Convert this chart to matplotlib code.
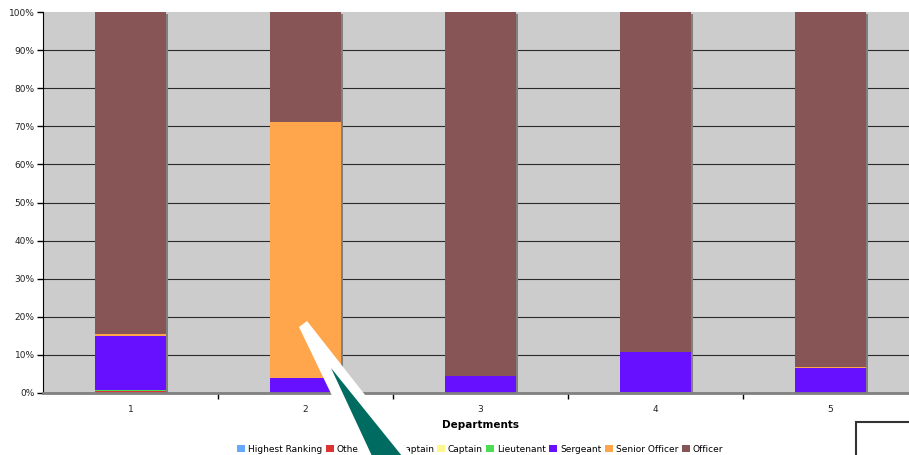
import matplotlib.pyplot as plt
import matplotlib.transforms as mtransforms
from matplotlib.patches import Polygon, Rectangle
import numpy as np

# Share of staff by rank in each department (percent)
departments = [1, 2, 3, 4, 5]
ranks = ['Highest Ranking', 'Other', 'Vice Captain', 'Captain',
         'Lieutenant', 'Sergeant', 'Senior Officer', 'Officer']
colors = ['#66aaff', '#dd3333', '#c8a0ff', '#fff68f',
          '#4cdd55', '#6610ff', '#ffa64d', '#875555']

highest = [0.0, 0.0, 0.0, 0.0, 0.0]
other = [0.4, 0.0, 0.0, 0.0, 0.0]
vice_captain = [0.0, 0.0, 0.0, 0.0, 0.0]
captain = [0.0, 0.0, 0.0, 0.0, 0.0]
lieutenant = [0.4, 0.0, 0.0, 0.2, 0.0]
sergeant = [14.2, 3.9, 4.5, 10.6, 6.6]
senior_officer = [0.5, 67.2, 0.0, 0.0, 0.2]
officer = [84.5, 28.9, 95.5, 89.2, 93.2]

series = [highest, other, vice_captain, captain,
          lieutenant, sergeant, senior_officer, officer]

W, H = 909, 455
fig = plt.figure(figsize=(W / 100, H / 100), dpi=100)
ax = fig.add_axes([43 / W, 62 / H, 875 / W, 381 / H])
ax.set_facecolor('#cccccc')

x = np.array(departments)
bar_w = 0.405

# drop shadow behind each stacked column
shadow = mtransforms.offset_copy(ax.transData, fig=fig, x=2, y=-2, units='dots')
totals = np.sum(series, axis=0)
ax.bar(x, totals, bar_w, color='#808080', transform=shadow, zorder=2)

bottom = np.zeros(len(x))
for name, vals, c in zip(ranks, series, colors):
    ax.bar(x, vals, bar_w, bottom=bottom, color=c, label=name, zorder=3)
    bottom += np.array(vals)

ax.set_xlim(0.5, 5.5)
ax.set_ylim(0, 100)
ax.set_yticks(np.arange(0, 101, 10))
ax.set_yticklabels([f'{v}%' for v in range(0, 101, 10)])
ax.yaxis.grid(True, color='#2a2a2a', linewidth=0.8)
ax.get_ygridlines()[-1].set_visible(False)
ax.set_axisbelow(True)

ax.set_xticks(x)
ax.set_xticks(np.arange(1.5, 5.0, 1.0), minor=True)
ax.tick_params(axis='x', which='major', length=0, pad=9, labelsize=6.5)
ax.tick_params(axis='x', which='minor', length=4, width=1, color='black')
ax.tick_params(axis='y', length=4, width=1, labelsize=6.5, pad=2)
for lab in ax.get_yticklabels() + ax.get_xticklabels():
    lab.set_color('#222222')

for side in ['top', 'right']:
    ax.spines[side].set_visible(False)
ax.spines['left'].set_color('black')
ax.spines['bottom'].set_color('#808080')
ax.spines['bottom'].set_linewidth(2)
ax.spines['bottom'].set_zorder(4)

ax.set_xlabel('Departments', fontsize=7.5, fontweight='bold', labelpad=4)

fig.legend(loc='center', bbox_to_anchor=(480 / W, 6 / H), ncol=8,
           frameon=False, fontsize=6.5, handlelength=0.9, handleheight=0.9,
           handletextpad=0.3, columnspacing=0.38, borderpad=0)

# callout arrow pointing at department 2
def px(pts):
    return [(a / W, (H - b) / H) for a, b in pts]

fig.add_artist(Polygon(px([(299, 327), (307, 321), (413, 456), (361, 456)]),
                       closed=True, facecolor='white', edgecolor='none',
                       transform=fig.transFigure, zorder=10))
fig.add_artist(Polygon(px([(331, 368), (402, 456), (372, 456)]),
                       closed=True, facecolor='#006b60', edgecolor='none',
                       transform=fig.transFigure, zorder=11))

# empty text box in the corner
fig.add_artist(Rectangle((856 / W, -0.05), 0.2, (H - 422) / H + 0.05,
                         facecolor='white', edgecolor='#333333', linewidth=1.5,
                         transform=fig.transFigure, zorder=10))

fig.savefig('out.png', dpi=100)
